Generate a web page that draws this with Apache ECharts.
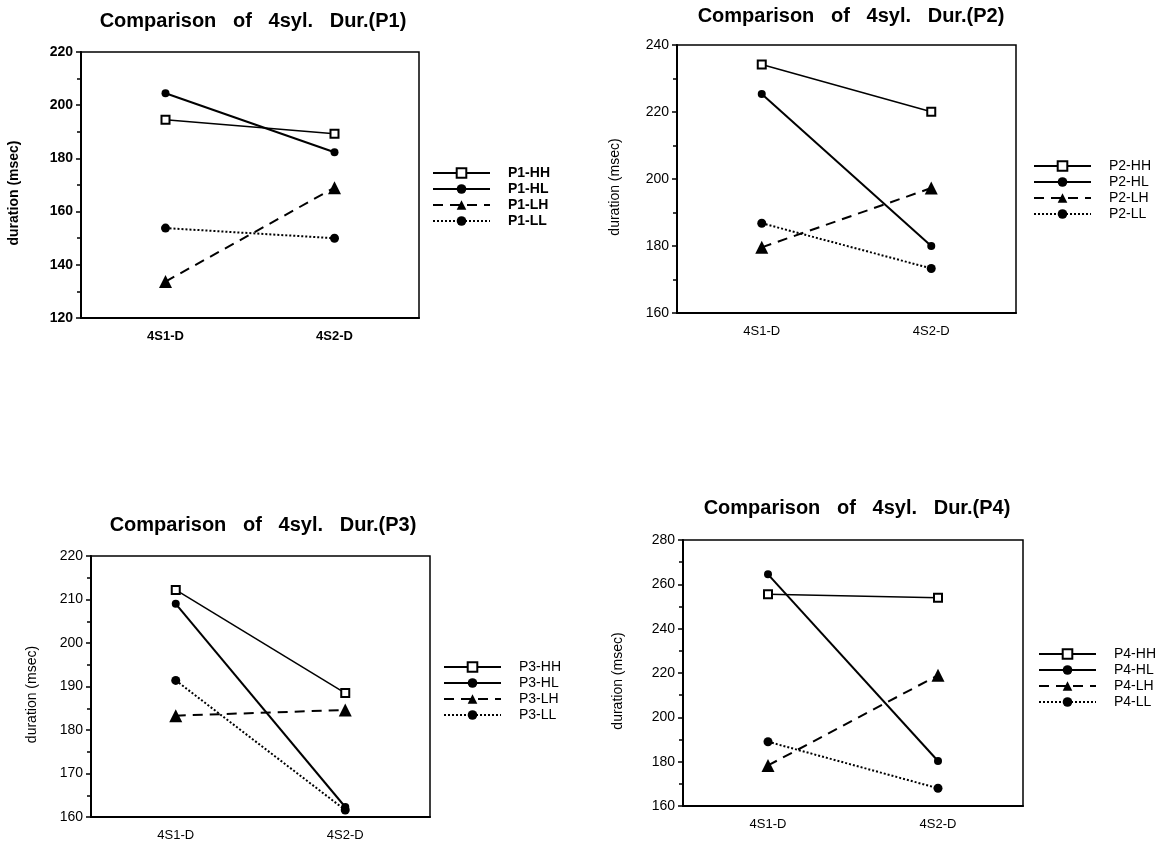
<!DOCTYPE html>
<html>
<head>
<meta charset="utf-8">
<script src="https://cdn.jsdelivr.net/npm/echarts@6/dist/echarts.min.js"></script>
<style>
  html, body { margin: 0; padding: 0; background: #fff; }
  #chart { width: 1168px; height: 846px; }
</style>
</head>
<body>
<div id="chart"></div>
<script>
var categories = ['4S1-D', '4S2-D'];
var kinds = ['HH', 'HL', 'LH', 'LL'];

// values (msec)
var p1HH = [194.5, 189.3];
var p1HL = [204.5, 182.3];
var p1LH = [133.7, 169.0];
var p1LL = [153.8, 150.0];

var p2HH = [234.2, 220.1];
var p2HL = [225.4, 180.0];
var p2LH = [179.6, 197.3];
var p2LL = [186.8, 173.3];

var p3HH = [212.2, 188.5];
var p3HL = [209.0, 162.3];
var p3LH = [183.3, 184.6];
var p3LL = [191.4, 161.6];

var p4HH = [255.5, 254.0];
var p4HL = [264.5, 180.3];
var p4LH = [178.3, 219.0];
var p4LL = [189.0, 168.0];

// y axis [min, max, interval]
var p1Range = [120, 220, 20];
var p2Range = [160, 240, 20];
var p3Range = [160, 220, 10];
var p4Range = [160, 280, 20];

var panels = [
  { id: 'P1', values: [p1HH, p1HL, p1LH, p1LL], range: p1Range },
  { id: 'P2', values: [p2HH, p2HL, p2LH, p2LL], range: p2Range },
  { id: 'P3', values: [p3HH, p3HL, p3LH, p3LL], range: p3Range },
  { id: 'P4', values: [p4HH, p4HL, p4LH, p4LL], range: p4Range }
];

// layout of each panel
var layout = [
  { grid: [81, 52, 338, 266], title: [248, 6], legend: [432, 166], nameGap: 60, bold: true },
  { grid: [677, 45, 339, 268], title: [846, 1], legend: [1033, 159], nameGap: 55, bold: false },
  { grid: [91, 556, 339, 261], title: [258, 510], legend: [443, 660], nameGap: 52, bold: false },
  { grid: [683, 540, 340, 266], title: [852, 493], legend: [1038, 647], nameGap: 58, bold: false }
];

var FONT = "'Liberation Sans', Arial, sans-serif";

var styles = {
  HH: { symbol: 'rect', symbolSize: 8,
        itemStyle: { color: '#fff', borderColor: '#000', borderWidth: 2 },
        lineStyle: { color: '#000', width: 1.5, type: 'solid' } },
  HL: { symbol: 'circle', symbolSize: 8,
        itemStyle: { color: '#000', borderColor: '#000', borderWidth: 0 },
        lineStyle: { color: '#000', width: 2, type: 'solid' } },
  LH: { symbol: 'triangle', symbolSize: 13,
        itemStyle: { color: '#000', borderColor: '#000', borderWidth: 0 },
        lineStyle: { color: '#000', width: 2, type: [10, 7] } },
  LL: { symbol: 'circle', symbolSize: 9,
        itemStyle: { color: '#000', borderColor: '#000', borderWidth: 0 },
        lineStyle: { color: '#000', width: 2, type: [2, 2] } }
};

var chart = echarts.init(document.getElementById('chart'));

var grids = [], xAxes = [], yAxes = [], titles = [], legends = [], series = [];

panels.forEach(function(p, i) {
  var l = layout[i];
  var weight = l.bold ? 'bold' : 'normal';
  grids.push({
    left: l.grid[0], top: l.grid[1], width: l.grid[2], height: l.grid[3],
    show: true, borderColor: '#000', borderWidth: 1.5, backgroundColor: 'transparent'
  });
  titles.push({
    text: 'Comparison   of   4syl.   Dur.(' + p.id + ')',
    left: l.title[0], top: l.title[1], textAlign: 'center',
    textStyle: { fontSize: 20, fontWeight: 'bold', fontFamily: FONT, color: '#000' }
  });
  xAxes.push({
    gridIndex: i, type: 'category', data: categories, boundaryGap: true,
    axisLine: { lineStyle: { color: '#000', width: 2 } },
    axisTick: { alignWithLabel: true, length: 5, lineStyle: { color: '#000', width: 1.5 } },
    axisLabel: { fontSize: 13, fontFamily: FONT, color: '#000', margin: 12, fontWeight: weight },
    splitLine: { show: false }
  });
  yAxes.push({
    gridIndex: i, type: 'value',
    min: p.range[0], max: p.range[1], interval: p.range[2],
    name: 'duration (msec)', nameLocation: 'middle', nameGap: l.nameGap,
    nameTextStyle: { fontSize: 14, fontFamily: FONT, color: '#000', fontWeight: weight, padding: [0, 16, 0, 0] },
    axisLine: { show: true, lineStyle: { color: '#000', width: 2 } },
    axisTick: { show: true, length: 5, lineStyle: { color: '#000', width: 1.5 } },
    minorTick: { show: true, splitNumber: 2, length: 4, lineStyle: { color: '#000', width: 1.5 } },
    splitLine: { show: false },
    axisLabel: { fontSize: 14, fontFamily: FONT, color: '#000', fontWeight: weight, margin: 8 }
  });
  var names = kinds.map(function(k) { return p.id + '-' + k; });
  legends.push({
    data: names, orient: 'vertical', left: l.legend[0], top: l.legend[1],
    padding: 0, itemWidth: 57, itemHeight: 12, itemGap: 2, selectedMode: false,
    textStyle: { fontSize: 14, fontFamily: FONT, color: '#000', fontWeight: weight,
                 lineHeight: 12, padding: [0, 0, 0, 13] }
  });
  kinds.forEach(function(k, j) {
    var s = styles[k];
    series.push({
      name: names[j], type: 'line', xAxisIndex: i, yAxisIndex: i,
      data: p.values[j],
      symbol: s.symbol, symbolSize: s.symbolSize,
      itemStyle: s.itemStyle, lineStyle: s.lineStyle,
      emphasis: { disabled: true }, z: 3
    });
  });
});

chart.setOption({
  backgroundColor: '#fff',
  animation: false,
  title: titles,
  legend: legends,
  grid: grids,
  xAxis: xAxes,
  yAxis: yAxes,
  series: series
});
</script>
</body>
</html>
